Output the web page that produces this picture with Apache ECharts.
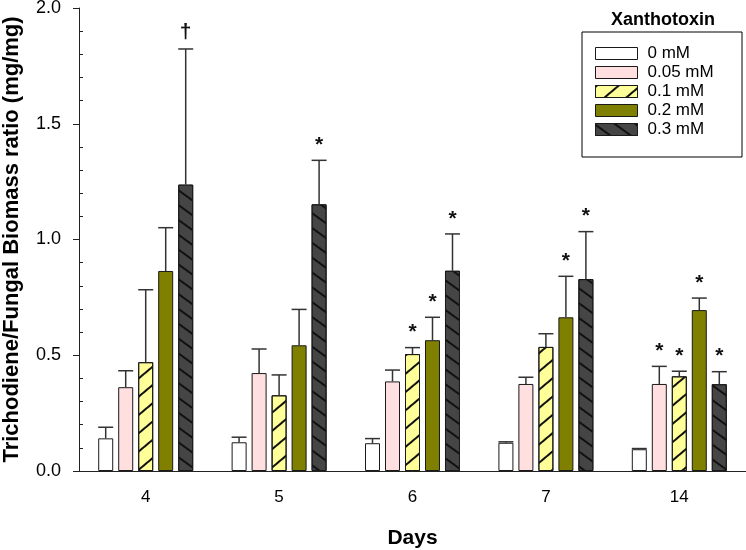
<!DOCTYPE html>
<html>
<head>
<meta charset="utf-8">
<script src="https://cdn.jsdelivr.net/npm/echarts@6/dist/echarts.min.js"></script>
<style>
html, body { margin: 0; padding: 0; background: #fff; }
#chartmain { width: 746px; height: 550px; }
</style>
</head>
<body>
<div id="chartmain"></div>
<script>
// 数据
var days = ['4', '5', '6', '7', '14'];
var doses = ['0 mM', '0.05 mM', '0.1 mM', '0.2 mM', '0.3 mM'];

// mean values per dose
var mean0   = [0.141, 0.124, 0.120, 0.122, 0.094];
var mean005 = [0.362, 0.423, 0.387, 0.376, 0.376];
var mean01  = [0.470, 0.327, 0.505, 0.536, 0.409];
var mean02  = [0.864, 0.543, 0.565, 0.664, 0.695];
var mean03  = [1.237, 1.152, 0.865, 0.829, 0.375];

// upper error (SD)
var sd0   = [0.048, 0.022, 0.020, 0.004, 0.003];
var sd005 = [0.071, 0.104, 0.049, 0.029, 0.076];
var sd01  = [0.313, 0.088, 0.028, 0.057, 0.022];
var sd02  = [0.187, 0.155, 0.099, 0.177, 0.052];
var sd03  = [0.586, 0.190, 0.159, 0.205, 0.054];

// significance marks
var mark0   = ['', '', '', '', ''];
var mark005 = ['', '', '', '', '*'];
var mark01  = ['', '', '*', '', '*'];
var mark02  = ['', '', '*', '*', '*'];
var mark03  = ['\u2020', '*', '*', '*', '*'];

var minorTicks = [0.1, 0.2, 0.3, 0.4, 0.6, 0.7, 0.8, 0.9, 1.1, 1.2, 1.3, 1.4, 1.6, 1.7, 1.8, 1.9];

var means = [mean0, mean005, mean01, mean02, mean03];
var sds = [sd0, sd005, sd01, sd02, sd03];
var marks = [mark0, mark005, mark01, mark02, mark03];

var font = 'Liberation Sans, Arial, sans-serif';
var colors = ['#ffffff', '#ffdfdf', '#ffff99', '#7f7f00', '#454545'];
var decals = [
    null,
    null,
    {symbol: 'rect', color: '#111', dashArrayX: [1, 0], dashArrayY: [1.2, 12], rotation: -Math.PI / 4.5},
    null,
    {symbol: 'rect', color: '#111', dashArrayX: [1, 0], dashArrayY: [1.2, 9.6], rotation: Math.PI / 5}
];

function errRender(k) {
    return function (params, api) {
        var base = api.coord([api.value(0), api.value(1)]);
        var top = api.coord([api.value(0), api.value(1) + api.value(2)]);
        var x = base[0] + (k - 2) * 20;
        var ls = {stroke: '#333', lineWidth: 1.5};
        var children = [
            {type: 'line', shape: {x1: x, y1: base[1], x2: x, y2: top[1]}, style: ls},
            {type: 'line', shape: {x1: x - 7.5, y1: top[1], x2: x + 7.5, y2: top[1]}, style: ls}
        ];
        var m = marks[k][params.dataIndex];
        if (m) {
            children.push({type: 'text', x: x, y: top[1] - (m === '*' ? 15 : 17),
                style: {text: m, fill: '#111', font: 'bold 21px ' + font, align: 'center', verticalAlign: 'middle'}});
        }
        return {type: 'group', children: children};
    };
}

var series = [];
for (var k = 0; k < 5; k++) {
    var ist = {color: colors[k], borderColor: '#1a1a1a', borderWidth: 1};
    if (decals[k]) ist.decal = decals[k];
    series.push({
        name: doses[k],
        type: 'bar',
        data: means[k],
        barWidth: 15,
        barGap: '33.3%',
        itemStyle: ist
    });
}
for (var k = 0; k < 5; k++) {
    series.push({
        name: 'err' + k,
        type: 'custom',
        renderItem: errRender(k),
        data: days.map(function (d, i) { return [i, means[k][i], sds[k][i]]; }),
        z: 5
    });
}

var myChart = echarts.init(document.getElementById('chartmain'));
var option = {
    backgroundColor: '#FFFFFF',
    animation: false,
    textStyle: {fontFamily: font},
    grid: {left: 79, right: 0, top: 8, bottom: 79, outerBoundsMode: 'none', containLabel: false},
    legend: {
        data: doses,
        orient: 'vertical',
        left: 595,
        top: 45,
        padding: 0,
        itemWidth: 42,
        itemHeight: 12,
        itemGap: 2,
        icon: 'rect',
        itemStyle: {borderColor: '#1a1a1a', borderWidth: 1},
        textStyle: {fontSize: 17, color: '#000', padding: [0, 0, 0, 5]}
    },
    graphic: [
        {type: 'rect', shape: {x: 582, y: 32, width: 160, height: 125},
            style: {fill: 'none', stroke: '#000', lineWidth: 1}},
        {type: 'text', x: 663, y: 20,
            style: {text: 'Xanthotoxin', font: 'bold 18px ' + font, fill: '#000', align: 'center', verticalAlign: 'middle'}}
    ],
    xAxis: [{
        type: 'category',
        data: days,
        name: 'Days',
        nameLocation: 'middle',
        nameGap: 57,
        nameTextStyle: {fontSize: 21, fontWeight: 'bold', color: '#000'},
        axisLine: {lineStyle: {color: '#222', width: 1}},
        axisTick: {alignWithLabel: true, length: 6, lineStyle: {color: '#222'}},
        axisLabel: {fontSize: 17, color: '#000', margin: 18}
    }, {
        type: 'category',
        data: days,
        position: 'top',
        axisLine: {show: true, lineStyle: {color: '#222', width: 1}},
        axisTick: {show: false},
        axisLabel: {show: false}
    }],
    yAxis: [{
        type: 'value',
        min: 0,
        max: 2,
        interval: 0.5,
        name: 'Trichodiene/Fungal Biomass ratio (mg/mg)',
        nameLocation: 'middle',
        nameGap: 56,
        nameTextStyle: {fontSize: 22, fontWeight: 'bold', color: '#000'},
        axisLine: {show: true, lineStyle: {color: '#222', width: 1}},
        axisTick: {show: true, length: 6, lineStyle: {color: '#222'}},
        axisLabel: {fontSize: 18, color: '#000', margin: 18,
            formatter: function (v) { return v.toFixed(1); }},
        splitLine: {show: false}
    }, {
        type: 'value',
        min: 0,
        max: 2,
        interval: 0.1,
        position: 'left',
        axisLine: {show: false},
        axisTick: {show: true, inside: true, length: 4, customValues: minorTicks, lineStyle: {color: '#222'}},
        axisLabel: {show: false},
        splitLine: {show: false}
    }],
    series: series
};
myChart.setOption(option);
</script>
</body>
</html>
